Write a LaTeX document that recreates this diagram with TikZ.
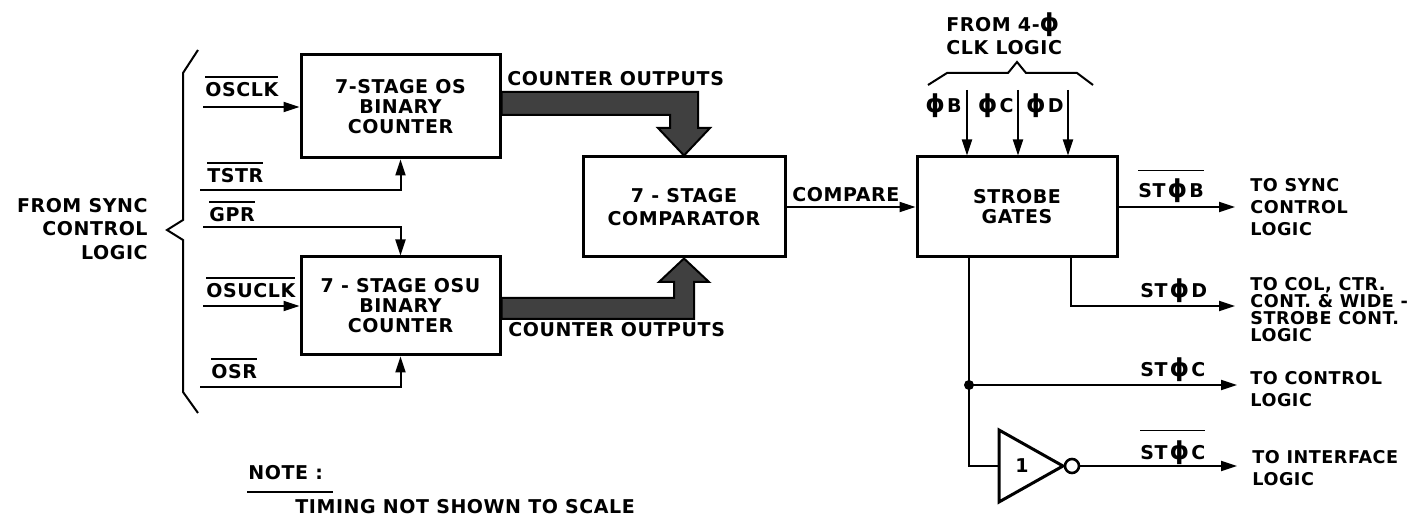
\documentclass[tikz,border=0pt]{standalone}
\usepackage{fontspec}
\setmainfont{DejaVu Sans}[LetterSpace=3]
\usetikzlibrary{arrows.meta,calc}
\newcommand\ovl[2][2.5pt]{\leavevmode\vbox{\hrule height 0.7pt\kern #1\hbox{#2}}}
\newcommand\ph{\scalebox{1.3}{ϕ}}
\begin{document}
\begin{tikzpicture}[x=0.5pt,y=-0.5pt,
  every node/.style={font=\fontsize{9.5}{10}\selectfont\bfseries, inner sep=0pt, text=black},
  blk/.style={draw, line width=1.5pt, align=center},
  wire/.style={line width=1pt},
  arr/.style={wire, -{Triangle[length=8pt,width=5pt]}},
  bus/.style={draw, line width=1pt, fill=black!75, line join=miter},
  small/.style={font=\fontsize{8.8}{11}\selectfont\bfseries, align=left},
]
\useasboundingbox (0,0) rectangle (1426,522);

% blocks
\node[blk, minimum width=99.5pt, minimum height=51.5pt] (os) at (400.5,106.5) {7-STAGE OS\\BINARY\\COUNTER};
\node[blk, minimum width=99.5pt, minimum height=49pt] (osu) at (400.5,306) {7 - STAGE OSU\\BINARY\\COUNTER};
\node[blk, minimum width=101pt, minimum height=50pt, font=\fontsize{9.5}{11.5}\selectfont\bfseries] (cmp) at (684,207) {7 - STAGE\\COMPARATOR};
\node[blk, minimum width=100pt, minimum height=50pt, font=\fontsize{9.5}{10}\selectfont\bfseries] (sg) at (1017,207) {STROBE\\GATES};

% left brace and label
\draw[line width=1pt, line join=miter] (198,50) -- (183,73) -- (183,220) -- (167,230) -- (183,240) -- (183,392) -- (198,413);
\node[anchor=north east, align=right, font=\fontsize{9.5}{11.75}\selectfont\bfseries] (src) at (148,198) {FROM SYNC\\CONTROL\\LOGIC};

% inputs
\coordinate (iOSCLK) at (203,107);
\draw[arr] (iOSCLK) -- (iOSCLK -| os.west);
\node[anchor=base west] (lOSCLK) at (205,97) {\ovl{OSCLK}};
\coordinate (iTSTR) at (200,190);
\draw[arr] (iTSTR) -| (os.south);
\node[anchor=base west] (lTSTR) at (207,183) {\ovl{TSTR}};
\coordinate (iGPR) at (203,227);
\draw[arr] (iGPR) -| (osu.north);
\node[anchor=base west] (lGPR) at (209,222) {\ovl{GPR}};
\coordinate (iOSUCLK) at (203,306);
\draw[arr] (iOSUCLK) -- (iOSUCLK -| osu.west);
\node[anchor=base west] (lOSUCLK) at (206,298) {\ovl{OSUCLK}};
\coordinate (iOSR) at (200,387);
\draw[arr] (iOSR) -| (osu.south);
\node[anchor=base west] (lOSR) at (211,379) {\ovl{OSR}};

% buses
\draw[bus] (os.east |- 0,92) -- (698,92) -- (698,128) -- (710,128) -- (cmp.north) -- (658,128) -- (670,128) -- (670,115) -- (os.east |- 0,115) -- cycle;
\draw[bus] (osu.east |- 0,298) -- (674,298) -- (674,282) -- (659,282) -- (cmp.south) -- (709,282) -- (694,282) -- (694,319) -- (osu.east |- 0,319) -- cycle;
\node[anchor=base west] (co1) at (507,86) {COUNTER OUTPUTS};
\node[anchor=base west] (co2) at (508,337) {COUNTER OUTPUTS};

% compare
\draw[arr] (cmp.east) -- (sg.west);
\node[anchor=base west] (lcmp) at (792,202) {COMPARE};

% phase inputs
\coordinate (pB) at (967,90);
\coordinate (pC) at (1018,90);
\coordinate (pD) at (1068,90);
\draw[arr] (pB) -- (pB |- sg.north);
\draw[arr] (pC) -- (pC |- sg.north);
\draw[arr] (pD) -- (pD |- sg.north);
\node[anchor=base east] (lpB) at (962,113) {\ph\kern1pt B};
\node[anchor=base east] (lpC) at (1014,113) {\ph\kern1pt C};
\node[anchor=base east] (lpD) at (1064,113) {\ph\kern1pt D};
\draw[line width=1pt, line join=miter] (928,85) -- (947,73) -- (1008,73) -- (1017,62) -- (1026,73) -- (1077,73) -- (1093,85);
\node[anchor=north west, align=left, font=\fontsize{9.5}{11.5}\selectfont\bfseries] (clk) at (946,12) {FROM 4-\ph\\CLK LOGIC};

% outputs
\coordinate (oB) at (1235,207);
\draw[arr] (sg.east) -- (oB);
\node[anchor=base west] (loB) at (1138,198) {\ovl[4pt]{ST\kern1pt\ph\kern1pt B}};
\node[small, anchor=north west] (dB) at (1250,178) {TO SYNC\\CONTROL\\LOGIC};

\coordinate (oD) at (1235,306);
\draw[arr] ($(sg.south east)+(-48,0)$) |- (oD);
\node[anchor=base west] (loD) at (1140,298) {ST\kern1pt\ph\kern1pt D};
\node[small, anchor=north west, font=\fontsize{8.8}{8.5}\selectfont\bfseries] (dD) at (1250,277) {TO COL, CTR.\\CONT. \& WIDE -\\STROBE CONT.\\LOGIC};

\coordinate (j) at (969,385);
\coordinate (oC) at (1237,385);
\coordinate (invin) at (999,466);
\draw[wire] (j |- sg.south) -- (j);
\draw[wire] (j) |- (invin);
\fill (j) circle (2.5pt);
\draw[arr] (j) -- (oC);
\node[anchor=base west] (loC) at (1140,377) {ST\kern1pt\ph\kern1pt C};
\node[small, anchor=north west] (dC) at (1250,371) {TO CONTROL\\LOGIC};

\draw[line width=1.5pt, line join=miter] (invin |- 0,430) -- (1063,466) -- (invin |- 0,502) -- cycle;
\node (inv1) at (1022,466) {1};
\node[circle, draw, line width=1.3pt, minimum size=7pt] (bub) at (1072,466) {};
\coordinate (oCb) at (1237,466);
\draw[arr] (bub.east) -- (oCb);
\node[anchor=base west] (loCb) at (1140,460) {\ovl[5pt]{ST\kern1pt\ph\kern1pt C}};
\node[small, anchor=north west] (dCb) at (1252,450) {TO INTERFACE\\LOGIC};

% note
\node[anchor=base west] (note) at (248,480) {NOTE :};
\draw[line width=0.8pt] ($(note.base west)+(-1,12)$) -- ($(note.base east)+(10,12)$);
\node[anchor=base west] (timing) at (295,514) {TIMING NOT SHOWN TO SCALE};
\end{tikzpicture}
\end{document}
